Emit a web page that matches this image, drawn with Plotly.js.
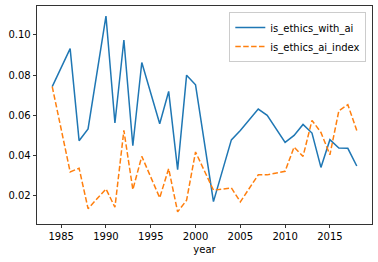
<!DOCTYPE html>
<html>
<head>
<meta charset="utf-8">
<script src="https://cdn.plot.ly/plotly-3.0.1.min.js"></script>
<style>html,body{margin:0;padding:0;background:#fff;}#chart{width:378px;height:262px;}</style>
</head>
<body>
<div id="chart"></div>
<script>
const years = [1984,1986,1987,1988,1990,1991,1992,1993,1994,1996,1997,1998,1999,2000,2002,2004,2005,2007,2008,2010,2011,2012,2013,2014,2015,2016,2017,2018];
const isEthicsWithAi = [0.0743,0.0932,0.0474,0.0533,0.1094,0.0562,0.0975,0.0449,0.0863,0.0558,0.0719,0.0330,0.0800,0.0752,0.0171,0.0478,0.0525,0.0631,0.0600,0.0466,0.0500,0.0555,0.0512,0.0341,0.0479,0.0438,0.0436,0.0348];
const isEthicsAiIndex = [0.0743,0.0319,0.0337,0.0136,0.0234,0.0143,0.0525,0.0231,0.0396,0.0190,0.0335,0.0120,0.0178,0.0418,0.0228,0.0239,0.0170,0.0304,0.0304,0.0322,0.0442,0.0396,0.0575,0.0515,0.0404,0.0623,0.0653,0.0525];
const seriesNames = ["is_ethics_with_ai","is_ethics_ai_index"];
const xTicks = [1985,1990,1995,2000,2005,2010,2015];
const yTicks = [0.02,0.04,0.06,0.08,0.10];

const traces = [
  {x: years, y: isEthicsWithAi, name: seriesNames[0], type: 'scatter', mode: 'lines',
   line: {color: '#1f77b4', width: 1.5}},
  {x: years, y: isEthicsAiIndex, name: seriesNames[1], type: 'scatter', mode: 'lines',
   line: {color: '#ff7f0e', width: 1.5, dash: '5.5px,2.4px'}}
];
const axisCommon = {showline: true, linecolor: '#000', linewidth: 0.8, mirror: true,
  ticks: 'outside', ticklen: 3.5, tickwidth: 0.8, tickcolor: '#000', showgrid: false, zeroline: false,
  tickfont: {family: 'DejaVu Sans', size: 10, color: '#000'}};
const layout = {
  width: 378, height: 262,
  margin: {l: 37, r: 6, t: 6, b: 38},
  paper_bgcolor: '#fff', plot_bgcolor: '#fff',
  font: {family: 'DejaVu Sans', size: 10, color: '#000'},
  xaxis: Object.assign({}, axisCommon, {range: [1982.3, 2019.7], tickvals: xTicks,
    title: {text: 'year', standoff: 4, font: {family: 'DejaVu Sans', size: 10, color: '#000'}}}),
  yaxis: Object.assign({}, axisCommon, {range: [0.00596, 0.1144], tickvals: yTicks, tickformat: '.2f'}),
  showlegend: true,
  legend: {x: 0.983, y: 0.972, xanchor: 'right', yanchor: 'top', bgcolor: 'rgba(255,255,255,0.8)',
    bordercolor: '#ccc', borderwidth: 1, font: {family: 'DejaVu Sans', size: 10, color: '#000'},
    tracegroupgap: 0, itemwidth: 30}
};
Plotly.newPlot('chart', traces, layout, {displayModeBar: false, staticPlot: true});
</script>
</body>
</html>
